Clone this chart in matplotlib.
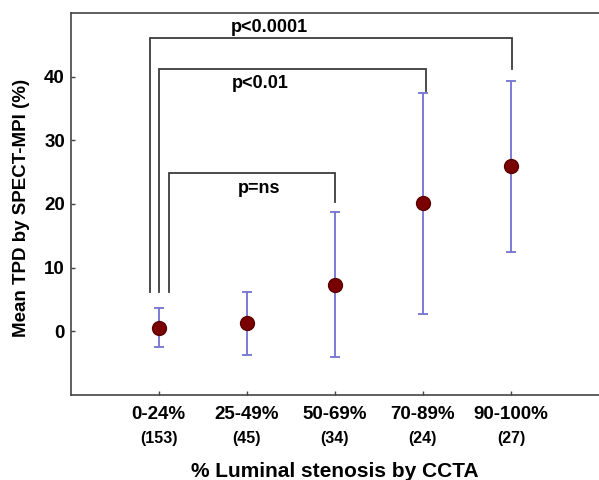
import numpy as np
import matplotlib.pyplot as plt
from matplotlib.transforms import blended_transform_factory

# Data
categories = ["0-24%", "25-49%", "50-69%", "70-89%", "90-100%"]
counts = ["(153)", "(45)", "(34)", "(24)", "(27)"]
mean_tpd = [0.6, 1.25, 7.3, 20.1, 25.9]
err_tpd = [3.0, 4.9, 11.4, 17.3, 13.45]

# Significance brackets: (left x, right x, bar height, left foot, right foot, label, label y)
brackets = [
    (0.90, 5.01, 46.1, 6.2, 41.2, "p<0.0001", 47.7),
    (1.01, 4.04, 41.2, 6.2, 37.8, "p<0.01", 39.0),
    (1.12, 3.00, 24.8, 6.2, 20.3, "p=ns", 22.5),
]
label_x = [2.26, 2.15, 2.14]

plt.rcParams['font.family'] = ['Liberation Sans', 'DejaVu Sans']
plt.rcParams['font.weight'] = 'bold'

fig = plt.figure(figsize=(5.99, 4.8), dpi=100)
ax = fig.add_axes([0.1177, 0.177, 0.8823, 0.796])

x = np.arange(1, len(categories) + 1)

for (x0, x1, top, f0, f1, txt, ty), tx in zip(brackets, label_x):
    ax.plot([x0, x0, x1, x1], [f0, top, top, f1], color='#3c3c3c', lw=1.3,
            solid_joinstyle='miter', zorder=1)
    ax.text(tx, ty, txt, ha='center', va='center', fontsize=13, fontweight='bold')

ax.errorbar(x, mean_tpd, yerr=err_tpd, fmt='o', color='#7272d2', ecolor='#7272d2',
            elinewidth=1.3, capsize=3.5, capthick=1.3, markersize=10,
            markerfacecolor='#7a0000', markeredgecolor='#5a0000', zorder=3)

ax.set_xlim(0, 6)
ax.set_ylim(-10, 50)
ax.set_yticks([0, 10, 20, 30, 40])
ax.set_xticks(x)
ax.set_xticklabels(categories, fontsize=13.5, fontweight='bold')
ax.tick_params(direction='in', length=3, width=1, color='#444444', pad=8)
ax.tick_params(axis='y', labelsize=13.5, pad=4)

trans = blended_transform_factory(ax.transData, ax.transAxes)
for xi, c in zip(x, counts):
    ax.text(xi, -0.113, c, transform=trans, ha='center', va='center',
            fontsize=11.5, fontweight='bold')

ax.spines['right'].set_visible(False)
for s in ['left', 'top', 'bottom']:
    ax.spines[s].set_color('#444444')
    ax.spines[s].set_linewidth(1.2)

ax.set_ylabel("Mean TPD by SPECT-MPI (%)", fontsize=13.5, fontweight='bold', va='center')
ax.yaxis.set_label_coords(-0.092, 0.49)
ax.set_xlabel("% Luminal stenosis by CCTA", fontsize=15, fontweight='bold', va='center')
ax.xaxis.set_label_coords(0.5, -0.2)

fig.savefig("out.png", dpi=100)
